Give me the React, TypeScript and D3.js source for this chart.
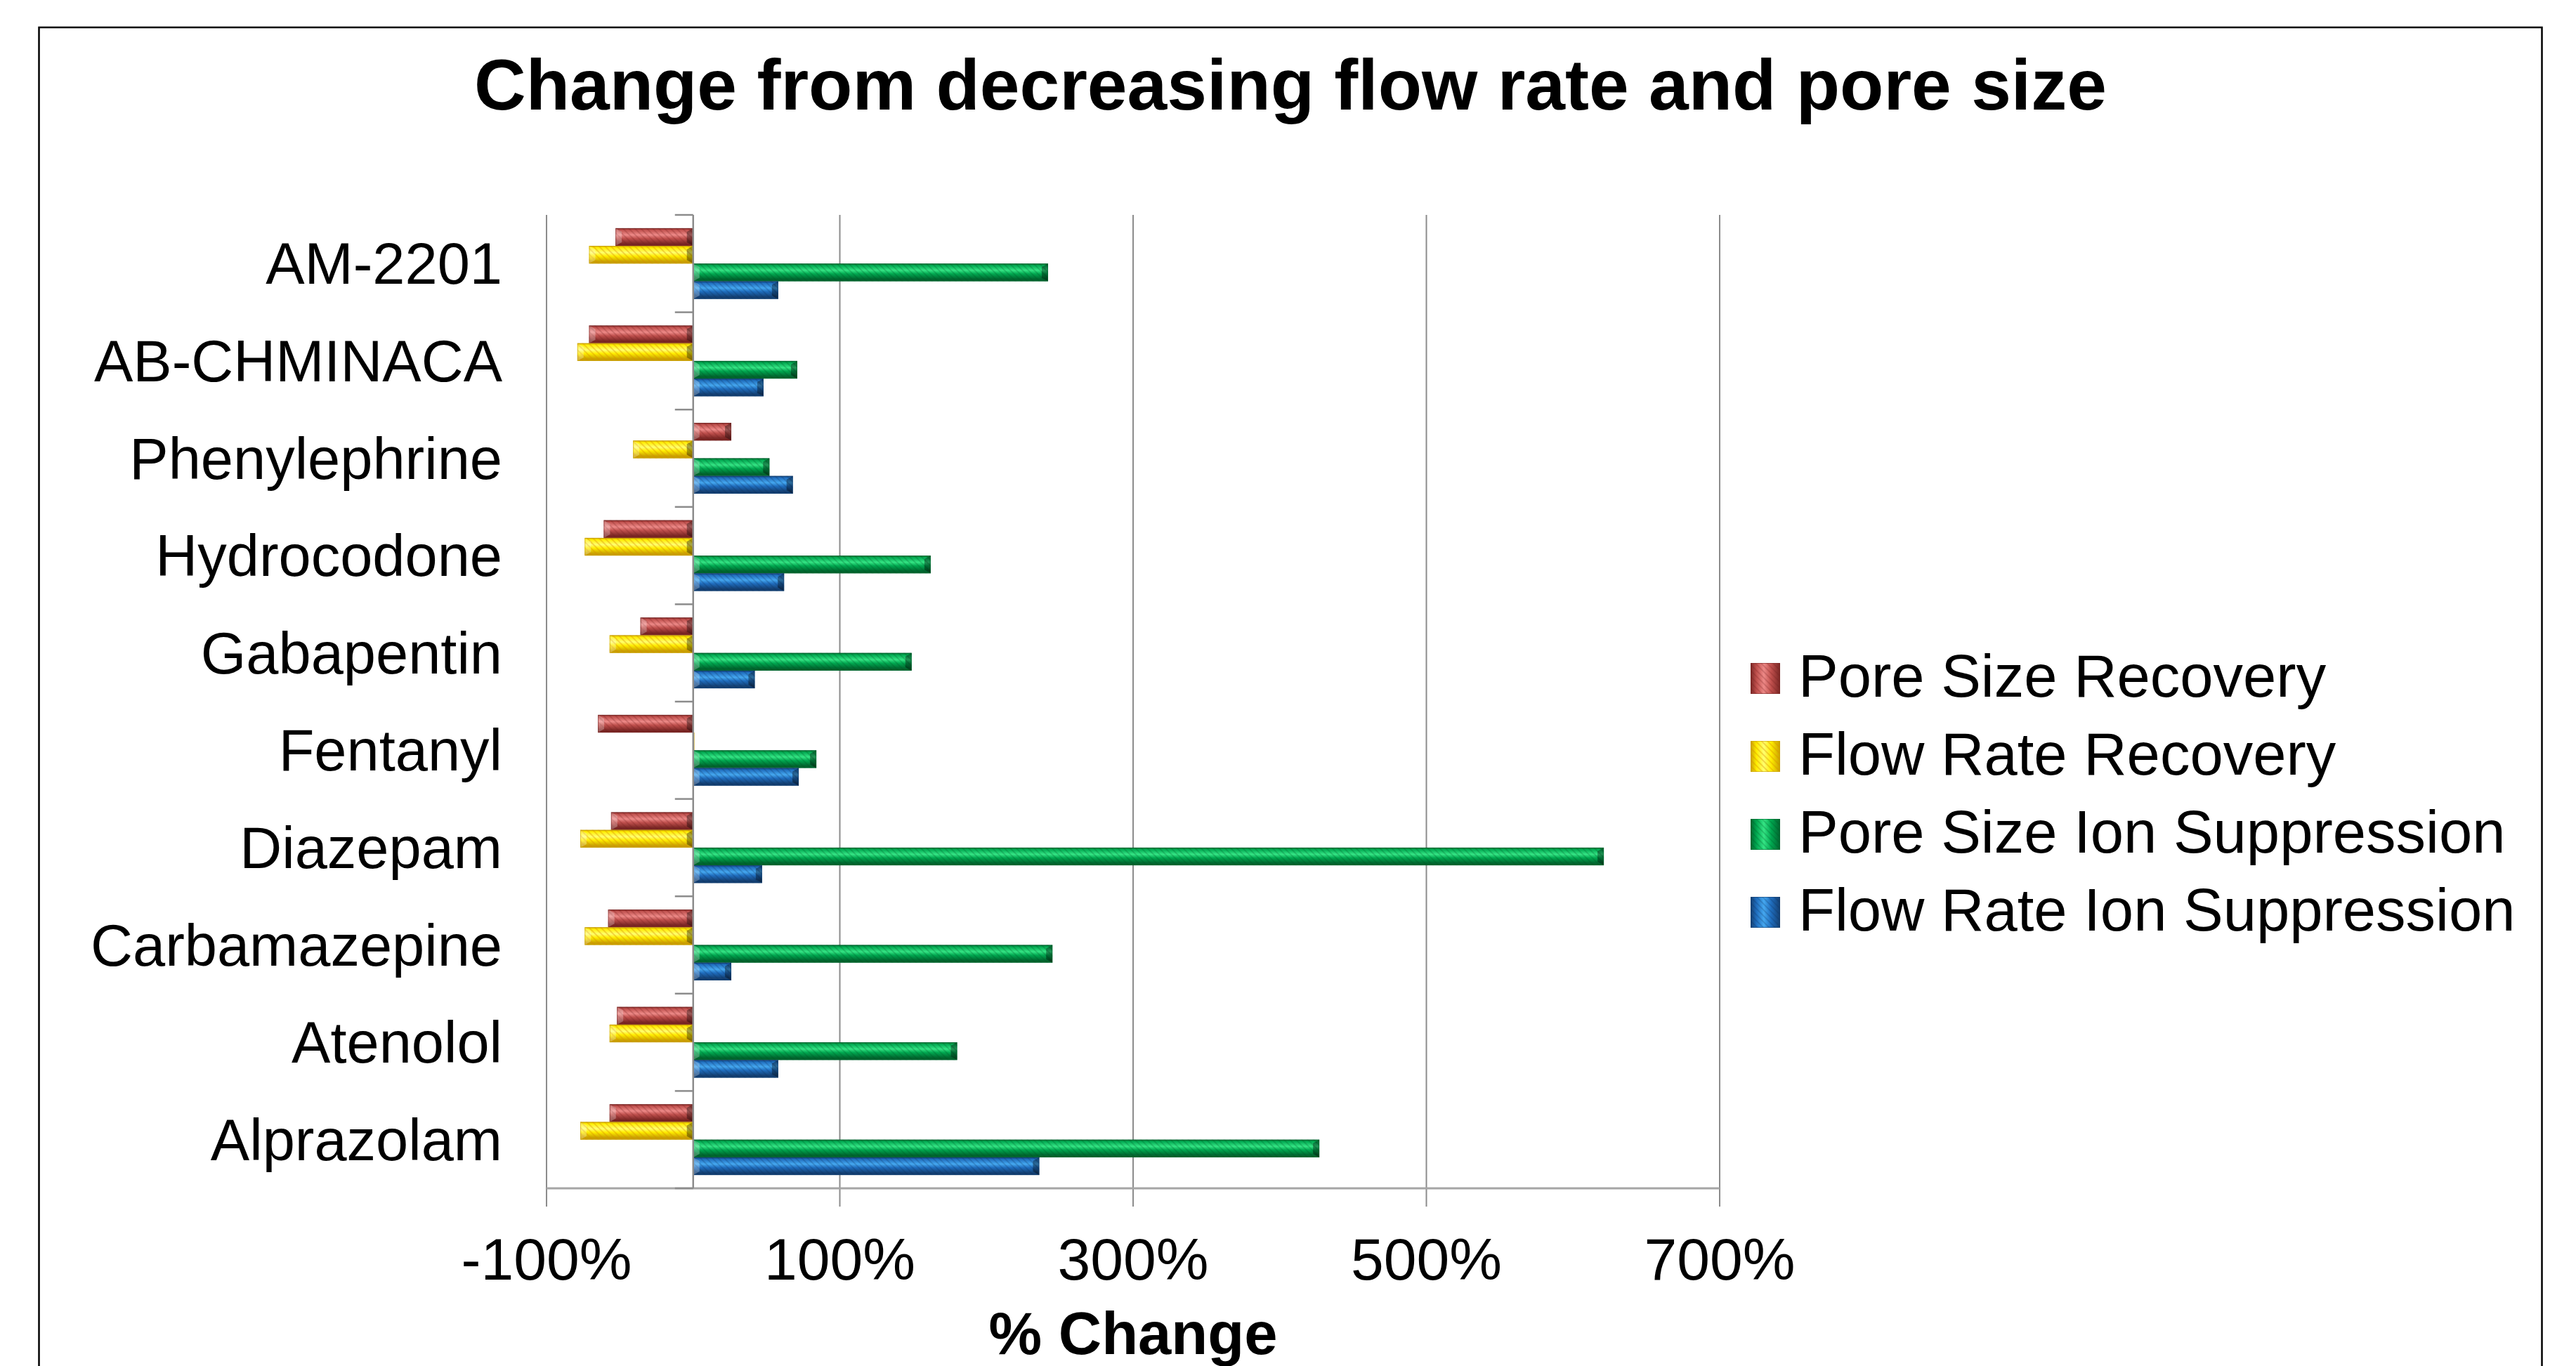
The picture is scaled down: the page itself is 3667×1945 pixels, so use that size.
import React from "react";
import * as d3 from "d3";

const categories = [
  "AM-2201",
  "AB-CHMINACA",
  "Phenylephrine",
  "Hydrocodone",
  "Gabapentin",
  "Fentanyl",
  "Diazepam",
  "Carbamazepine",
  "Atenolol",
  "Alprazolam",
];

const seriesNames = [
  "Pore Size Recovery",
  "Flow Rate Recovery",
  "Pore Size Ion Suppression",
  "Flow Rate Ion Suppression",
];

const poreSizeRecovery = [-53, -71, 26, -61, -36, -65, -56, -58, -52, -57];
const flowRateRecovery = [-71, -79, -41, -74, -57, 0, -77, -74, -57, -77];
const poreSizeIonSuppression = [242, 71, 52, 162, 149, 84, 621, 245, 180, 427];
const flowRateIonSuppression = [58, 48, 68, 62, 42, 72, 47, 26, 58, 236];

const seriesValues = [
  poreSizeRecovery,
  flowRateRecovery,
  poreSizeIonSuppression,
  flowRateIonSuppression,
];

const xTicks = [-100, 100, 300, 500, 700];

const palette = [
  { base: "#C0504D", light: "#EE8A88", dark: "#7A2624", stripe: "#6E1C1A" },
  { base: "#FFEE00", light: "#FFFF70", dark: "#C8A000", stripe: "#D88A00" },
  { base: "#00A850", light: "#35E585", dark: "#00652E", stripe: "#004D22" },
  { base: "#1F6DBE", light: "#45A8F0", dark: "#133F72", stripe: "#0D2F58" },
];

const FONT = "'Liberation Sans', Arial, Helvetica, sans-serif";

export default function App() {
  const W = 3667;
  const H = 1945;
  const x = d3.scaleLinear().domain([-100, 700]).range([778, 2448]);
  const y = d3.scaleBand<string>().domain(categories).range([306, 1692]).padding(0);
  const band = y.bandwidth();
  const bw = band / 5.5;
  const inner = d3
    .scaleBand<string>()
    .domain(seriesNames)
    .range([0.75 * bw, 4.75 * bw])
    .padding(0);
  const x0 = x(0);
  const plotTop = 306;
  const plotBottom = 1692;
  const bevel = 9;

  return (
    <svg
      width={W}
      height={H}
      style={{ position: "absolute", left: 0, top: 0, display: "block", background: "#fff" }}
    >
      <defs>
        {palette.map((p, i) => (
          <React.Fragment key={i}>
            <linearGradient id={`vg${i}`} x1="0" y1="0" x2="0" y2="1">
              <stop offset="0%" stopColor={p.dark} />
              <stop offset="10%" stopColor={p.base} />
              <stop offset="38%" stopColor={p.light} />
              <stop offset="58%" stopColor={p.base} />
              <stop offset="88%" stopColor={p.dark} />
              <stop offset="100%" stopColor={p.dark} />
            </linearGradient>
            <linearGradient id={`hg${i}`} x1="0" y1="0" x2="1" y2="0">
              <stop offset="0%" stopColor={p.dark} />
              <stop offset="20%" stopColor={p.base} />
              <stop offset="45%" stopColor={p.light} />
              <stop offset="70%" stopColor={p.base} />
              <stop offset="100%" stopColor={p.dark} />
            </linearGradient>
            <pattern
              id={`pt${i}`}
              width={6}
              height={6}
              patternUnits="userSpaceOnUse"
              patternTransform="rotate(-45)"
            >
              <rect width={2} height={6} fill={p.stripe} opacity={i === 1 ? 0.35 : 0.22} />
            </pattern>
          </React.Fragment>
        ))}
      </defs>

      <rect x={0} y={0} width={W} height={H} fill="#fff" />

      {/* outer chart border */}
      <rect
        x={55.5}
        y={39}
        width={3563}
        height={1960}
        fill="none"
        stroke="#000"
        strokeWidth={2.5}
      />

      {/* title */}
      <text
        x={1837}
        y={156}
        textAnchor="middle"
        fontFamily={FONT}
        fontWeight="bold"
        fontSize={102}
        fill="#000"
      >
        Change from decreasing flow rate and pore size
      </text>

      {/* vertical gridlines (extend as ticks below axis) */}
      {xTicks.map((t) => (
        <line
          key={`g${t}`}
          x1={x(t)}
          x2={x(t)}
          y1={plotTop}
          y2={plotBottom + 26}
          stroke="#8C8C8C"
          strokeWidth={2}
        />
      ))}

      {/* horizontal value axis line */}
      <line
        x1={x(-100)}
        x2={x(700)}
        y1={plotBottom}
        y2={plotBottom}
        stroke="#A6A6A6"
        strokeWidth={3}
      />

      {/* bars */}
      {categories.map((c, ci) =>
        seriesNames.map((s, si) => {
          const v = seriesValues[si][ci];
          const by = (y(c) as number) + (inner(s) as number);
          const bh = inner.bandwidth();
          const xa = x(Math.min(0, v));
          const xb = x(Math.max(0, v));
          const w = xb - xa;
          if (w <= 0.5) {
            return (
              <line
                key={`${ci}-${si}`}
                x1={x0 + 1}
                x2={x0 + 1}
                y1={by}
                y2={by + bh}
                stroke={palette[si].dark}
                strokeWidth={1.5}
              />
            );
          }
          const b = Math.min(bevel, w / 2);
          return (
            <g key={`${ci}-${si}`}>
              <rect x={xa} y={by} width={w} height={bh} fill={`url(#vg${si})`} />
              <rect x={xa} y={by} width={w} height={bh} fill={`url(#pt${si})`} />
              <polygon
                points={`${xa},${by} ${xa + b},${by + 5} ${xa + b},${by + bh - 5} ${xa},${by + bh}`}
                fill="#fff"
                opacity={0.25}
              />
              <polygon
                points={`${xb},${by} ${xb - b},${by + 5} ${xb - b},${by + bh - 5} ${xb},${by + bh}`}
                fill="#000"
                opacity={0.35}
              />
              <rect
                x={xa + 0.5}
                y={by + 0.5}
                width={w - 1}
                height={bh - 1}
                fill="none"
                stroke={palette[si].dark}
                strokeWidth={1}
                opacity={0.6}
              />
            </g>
          );
        })
      )}

      {/* category axis line at 0 */}
      <line x1={x0} x2={x0} y1={plotTop} y2={plotBottom} stroke="#8C8C8C" strokeWidth={2.5} />
      {[...categories.map((c) => y(c) as number), plotBottom].map((ty, i) => (
        <line
          key={`ct${i}`}
          x1={x0 - 26}
          x2={x0}
          y1={ty}
          y2={ty}
          stroke="#8C8C8C"
          strokeWidth={2.5}
        />
      ))}

      {/* category labels */}
      {categories.map((c) => (
        <text
          key={`cl${c}`}
          x={715}
          y={(y(c) as number) + band / 2 + 29}
          textAnchor="end"
          fontFamily={FONT}
          fontSize={83}
          fill="#000"
        >
          {c}
        </text>
      ))}

      {/* x tick labels */}
      {xTicks.map((t) => (
        <text
          key={`xl${t}`}
          x={x(t)}
          y={1822}
          textAnchor="middle"
          fontFamily={FONT}
          fontSize={84}
          fill="#000"
        >
          {`${t}%`}
        </text>
      ))}

      {/* x axis title */}
      <text
        x={1613}
        y={1928}
        textAnchor="middle"
        fontFamily={FONT}
        fontWeight="bold"
        fontSize={85}
        fill="#000"
      >
        % Change
      </text>

      {/* legend */}
      {seriesNames.map((s, i) => {
        const cy = 966 + i * 111;
        return (
          <g key={`lg${i}`}>
            <rect x={2492} y={cy - 22} width={42} height={44} fill={`url(#hg${i})`} />
            <rect x={2492} y={cy - 22} width={42} height={44} fill={`url(#pt${i})`} />
            <rect
              x={2492.5}
              y={cy - 21.5}
              width={41}
              height={43}
              fill="none"
              stroke={palette[i].dark}
              strokeWidth={1}
              opacity={0.6}
            />
            <text
              x={2560}
              y={cy + 26}
              fontFamily={FONT}
              fontSize={85}
              fill="#000"
            >
              {s}
            </text>
          </g>
        );
      })}
    </svg>
  );
}
